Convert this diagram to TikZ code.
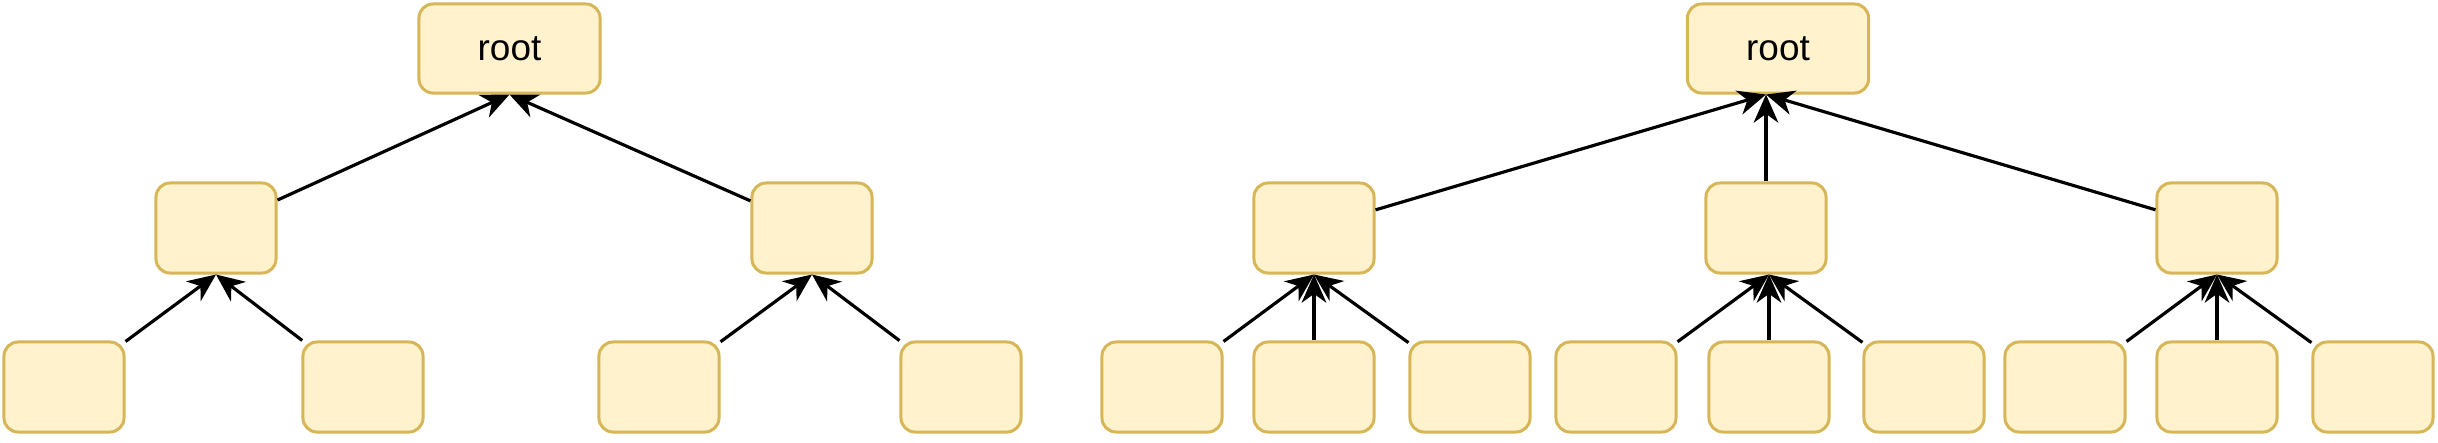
\documentclass[tikz,border=0pt]{standalone}
\usepackage{fontspec}
\setmainfont{Liberation Sans}
\usetikzlibrary{arrows.meta}
\definecolor{boxfill}{HTML}{FFF2CC}
\definecolor{boxline}{HTML}{D6B656}
\tikzset{
    box/.style={draw=boxline, fill=boxfill, line width=0.85pt, rounded corners=4pt,
        minimum width=1.2cm, minimum height=0.9cm, inner sep=0pt},
    rootbox/.style={box, minimum width=1.81cm, minimum height=0.89cm,
        font=\fontsize{10.5}{12}\selectfont},
    edge/.style={-{Stealth[length=8pt, width=7pt, inset=2.5pt]}, line width=0.9pt}
}

\begin{document}
\begin{tikzpicture}[x=0.01cm, y=-0.01cm]
    \useasboundingbox (0, 0) rectangle (2438, 442);

    % Binary tree
    \begin{scope}
        \node[rootbox] (rootA) at (509.5, 48.5) {root};
        \node[box] (a1) at (216, 228) {};
        \node[box] (a2) at (812, 228) {};
        \node[box] (a11) at (64, 387) {};
        \node[box] (a12) at (363, 387) {};
        \node[box] (a21) at (659, 387) {};
        \node[box] (a22) at (961, 387) {};

        \draw[edge] (a1) -- (rootA.south);
        \draw[edge] (a2) -- (rootA.south);
        \draw[edge] (a11) -- (a1.south);
        \draw[edge] (a12) -- (a1.south);
        \draw[edge] (a21) -- (a2.south);
        \draw[edge] (a22) -- (a2.south);
    \end{scope}

    % Ternary tree
    \begin{scope}
        \node[rootbox] (rootB) at (1778, 48.5) {root};
        \node[box] (b1) at (1314, 228) {};
        \node[box] (b2) at (1766, 228) {};
        \node[box] (b3) at (2217, 228) {};
        \node[box] (b11) at (1162, 387) {};
        \node[box] (b12) at (1314, 387) {};
        \node[box] (b13) at (1470, 387) {};
        \node[box] (b21) at (1616, 387) {};
        \node[box] (b22) at (1769, 387) {};
        \node[box] (b23) at (1924, 387) {};
        \node[box] (b31) at (2065, 387) {};
        \node[box] (b32) at (2217, 387) {};
        \node[box] (b33) at (2373, 387) {};

        % arrows meet above the middle child
        \coordinate (tipB) at (rootB.south -| b2);
        \coordinate (tipB2) at (b2.south -| b22);

        \draw[edge] (b1) -- (tipB);
        \draw[edge] (b2) -- (tipB);
        \draw[edge] (b3) -- (tipB);
        \draw[edge] (b11) -- (b1.south);
        \draw[edge] (b12) -- (b1.south);
        \draw[edge] (b13) -- (b1.south);
        \draw[edge] (b21) -- (tipB2);
        \draw[edge] (b22) -- (tipB2);
        \draw[edge] (b23) -- (tipB2);
        \draw[edge] (b31) -- (b3.south);
        \draw[edge] (b32) -- (b3.south);
        \draw[edge] (b33) -- (b3.south);
    \end{scope}
\end{tikzpicture}
\end{document}
